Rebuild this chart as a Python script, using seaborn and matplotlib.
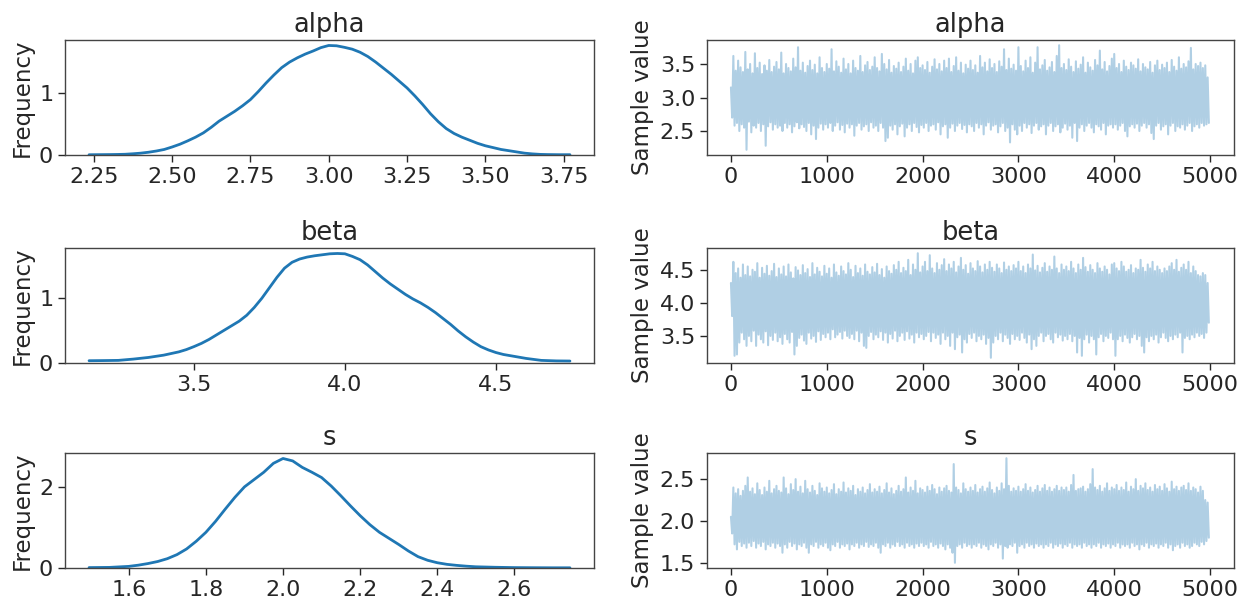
import numpy as np
import pandas as pd
import matplotlib
matplotlib.use("Agg")
import matplotlib.pyplot as plt
import seaborn as sns

# ---------------- data ----------------
params = ["alpha", "beta", "s"]

# posterior density
alpha_kde_x = [2.235, 2.25, 2.275, 2.30, 2.325, 2.35, 2.375, 2.40, 2.425, 2.45, 2.475, 2.50, 2.525, 2.55,
               2.575, 2.60, 2.625, 2.65, 2.675, 2.70, 2.725, 2.75, 2.775, 2.80, 2.825, 2.85, 2.875,
               2.90, 2.925, 2.95, 2.975, 3.00, 3.025, 3.05, 3.075, 3.10, 3.125, 3.15, 3.175, 3.20,
               3.225, 3.25, 3.275, 3.30, 3.325, 3.35, 3.375, 3.40, 3.425, 3.45, 3.475, 3.50, 3.525,
               3.55, 3.575, 3.60, 3.625, 3.65, 3.675, 3.70, 3.735, 3.77]
alpha_kde_y = [0.004, 0.005, 0.006, 0.007, 0.009, 0.012, 0.02, 0.03, 0.045, 0.065, 0.09, 0.13, 0.175, 0.23,
               0.29, 0.36, 0.45, 0.55, 0.63, 0.71, 0.80, 0.90, 1.03, 1.17, 1.30, 1.42, 1.51,
               1.58, 1.64, 1.69, 1.745, 1.78, 1.775, 1.75, 1.72, 1.67, 1.60, 1.51, 1.41, 1.31,
               1.20, 1.09, 0.96, 0.82, 0.67, 0.54, 0.43, 0.35, 0.29, 0.24, 0.19, 0.15, 0.12,
               0.09, 0.07, 0.05, 0.03, 0.018, 0.01, 0.007, 0.005, 0.005]

beta_kde_x = [3.153, 3.20, 3.25, 3.30, 3.35, 3.40, 3.45, 3.475, 3.50, 3.525, 3.55, 3.575, 3.60, 3.625,
              3.65, 3.675, 3.70, 3.725, 3.75, 3.775, 3.80, 3.825, 3.85, 3.875, 3.90, 3.925, 3.95,
              3.975, 4.00, 4.025, 4.05, 4.075, 4.10, 4.125, 4.15, 4.175, 4.20, 4.225, 4.25, 4.275,
              4.30, 4.325, 4.35, 4.375, 4.40, 4.425, 4.45, 4.475, 4.50, 4.525, 4.55, 4.60, 4.65,
              4.70, 4.745]
beta_kde_y = [0.035, 0.037, 0.04, 0.06, 0.085, 0.12, 0.17, 0.205, 0.25, 0.30, 0.36, 0.43, 0.50, 0.57,
              0.64, 0.73, 0.85, 0.99, 1.15, 1.31, 1.45, 1.54, 1.59, 1.62, 1.64, 1.655, 1.67,
              1.675, 1.67, 1.63, 1.58, 1.50, 1.40, 1.30, 1.21, 1.13, 1.05, 0.98, 0.92, 0.85,
              0.77, 0.68, 0.59, 0.49, 0.40, 0.32, 0.25, 0.20, 0.16, 0.13, 0.11, 0.07, 0.04,
              0.032, 0.03]

s_kde_x = [1.497, 1.55, 1.60, 1.625, 1.65, 1.675, 1.70, 1.725, 1.75, 1.775, 1.80, 1.825, 1.85, 1.875,
           1.90, 1.925, 1.95, 1.975, 2.00, 2.025, 2.05, 2.075, 2.10, 2.125, 2.15, 2.175, 2.20,
           2.225, 2.25, 2.275, 2.30, 2.325, 2.35, 2.375, 2.40, 2.425, 2.45, 2.475, 2.50, 2.55,
           2.60, 2.65, 2.70, 2.744]
s_kde_y = [0.01, 0.015, 0.04, 0.07, 0.11, 0.16, 0.23, 0.33, 0.47, 0.66, 0.88, 1.15, 1.45, 1.74,
           2.00, 2.18, 2.36, 2.58, 2.70, 2.64, 2.48, 2.36, 2.23, 2.02, 1.78, 1.53, 1.29,
           1.07, 0.88, 0.73, 0.58, 0.42, 0.28, 0.19, 0.13, 0.09, 0.065, 0.045, 0.03, 0.018,
           0.01, 0.007, 0.005, 0.005]

trace_step = 12.5  # iterations between the listed trace values

alpha_trace = [
    3.15, 2.70, 3.62, 2.58, 3.40, 2.62, 3.55, 2.50, 3.45, 2.60, 3.38, 2.55, 3.68, 2.22, 3.42, 2.64, 3.50, 2.48, 3.36, 2.58,
    3.66, 2.55, 3.44, 2.62, 3.52, 2.50, 3.35, 2.60, 3.48, 2.28, 3.40, 2.57, 3.56, 2.63, 3.38, 2.52, 3.46, 2.60, 3.53, 2.55,
    3.42, 2.58, 3.67, 2.50, 3.36, 2.62, 3.50, 2.55, 3.44, 2.60, 3.39, 2.48, 3.58, 2.57, 3.45, 2.63, 3.75, 2.54, 3.40, 2.60,
    3.52, 2.56, 3.37, 2.50, 3.47, 2.62, 3.55, 2.45, 3.41, 2.58, 3.49, 2.38, 3.36, 2.55, 3.60, 2.61, 3.44, 2.52, 3.38, 2.60,
    3.50, 2.55, 3.43, 2.62, 3.72, 2.50, 3.39, 2.58, 3.54, 2.63, 3.46, 2.52, 3.37, 2.59, 3.58, 2.48, 3.42, 2.61, 3.50, 2.55,
    3.36, 2.60, 3.55, 2.43, 3.44, 2.58, 3.40, 2.62, 3.62, 2.52, 3.38, 2.57, 3.48, 2.60, 3.53, 2.50, 3.41, 2.63, 3.46, 2.55,
    3.60, 2.58, 3.44, 2.50, 3.39, 2.62, 3.65, 2.55, 3.50, 2.35, 3.42, 2.40, 3.56, 2.58, 3.37, 2.52, 3.47, 2.60, 3.43, 2.45,
    3.52, 2.57, 3.38, 2.61, 3.46, 2.42, 3.58, 2.55, 3.40, 2.60, 3.50, 2.50, 3.36, 2.62, 3.55, 2.56, 3.60, 2.48, 3.44, 2.59,
    3.48, 2.55, 3.41, 2.62, 3.53, 2.50, 3.37, 2.58, 3.46, 2.60, 3.57, 2.52, 3.42, 2.63, 3.50, 2.45, 3.39, 2.57, 3.55, 2.60,
    3.44, 2.40, 3.58, 2.55, 3.38, 2.61, 3.47, 2.50, 3.60, 2.58, 3.40, 2.62, 3.52, 2.53, 3.36, 2.59, 3.49, 2.48, 3.43, 2.60,
    3.55, 2.57, 3.41, 2.50, 3.48, 2.62, 3.37, 2.55, 3.62, 2.60, 3.45, 2.45, 3.52, 2.58, 3.39, 2.63, 3.57, 2.52, 3.44, 2.58,
    3.50, 2.60, 3.38, 2.48, 3.54, 2.57, 3.46, 2.62, 3.72, 2.50, 3.41, 2.55, 3.58, 2.33, 3.43, 2.60, 3.49, 2.52, 3.40, 2.45,
    3.75, 2.58, 3.47, 2.50, 3.39, 2.62, 3.55, 2.55, 3.44, 2.60, 3.60, 2.47, 3.37, 2.58, 3.52, 2.62, 3.75, 2.52, 3.42, 2.57,
    3.48, 2.60, 3.56, 2.45, 3.40, 2.58, 3.45, 2.62, 3.53, 2.50, 3.38, 2.57, 3.62, 2.60, 3.78, 2.48, 3.44, 2.55, 3.50, 2.61,
    3.41, 2.52, 3.57, 2.58, 3.46, 2.40, 3.38, 2.62, 3.54, 2.35, 3.43, 2.55, 3.49, 2.60, 3.60, 2.50, 3.37, 2.58, 3.52, 2.62,
    3.45, 2.55, 3.40, 2.48, 3.56, 2.60, 3.48, 2.57, 3.70, 2.52, 3.42, 2.62, 3.53, 2.45, 3.39, 2.58, 3.47, 2.60, 3.58, 2.55,
    3.65, 2.60, 3.44, 2.52, 3.50, 2.58, 3.38, 2.62, 3.55, 2.50, 3.46, 2.42, 3.41, 2.57, 3.52, 2.60, 3.48, 2.55, 3.43, 2.61,
    3.57, 2.50, 3.39, 2.58, 3.50, 2.62, 3.45, 2.55, 3.42, 2.60, 3.53, 2.47, 3.37, 2.38, 3.48, 2.58, 3.55, 2.62, 3.41, 2.52,
    3.49, 2.57, 3.44, 2.60, 3.52, 2.45, 3.38, 2.58, 3.56, 2.62, 3.46, 2.50, 3.40, 2.57, 3.60, 2.55, 3.43, 2.60, 3.50, 2.52,
    3.45, 2.58, 3.54, 2.62, 3.74, 2.50, 3.42, 2.57, 3.50, 2.60, 3.47, 2.55, 3.52, 2.62, 3.44, 2.58, 3.48, 2.60, 3.30, 2.62,
]

beta_trace = [
    4.30, 3.80, 4.62, 3.20, 4.45, 3.22, 4.52, 3.40, 4.38, 3.55, 4.58, 3.45, 4.42, 3.35, 4.55, 3.50, 4.40, 3.42, 4.50, 3.58,
    4.47, 3.35, 4.60, 3.52, 4.38, 3.45, 4.53, 3.40, 4.44, 3.57, 4.56, 3.36, 4.41, 3.50, 4.48, 3.44, 4.59, 3.55, 4.39, 3.42,
    4.52, 3.48, 4.43, 3.38, 4.55, 3.53, 4.40, 3.45, 4.58, 3.40, 4.46, 3.56, 4.37, 3.22, 4.54, 3.35, 4.49, 3.47, 4.42, 3.52,
    4.57, 3.43, 4.45, 3.38, 4.51, 3.55, 4.39, 3.46, 4.60, 3.50, 4.43, 3.41, 4.53, 3.57, 4.47, 3.44, 4.40, 3.53, 4.56, 3.48,
    4.44, 3.55, 4.52, 3.45, 4.38, 3.60, 4.58, 3.48, 4.46, 3.52, 4.41, 3.56, 4.55, 3.46, 4.48, 3.58, 4.43, 3.50, 4.60, 3.47,
    4.50, 3.53, 4.39, 3.45, 4.56, 3.58, 4.45, 3.42, 4.52, 3.55, 4.41, 3.35, 4.58, 3.32, 4.47, 3.50, 4.43, 3.56, 4.54, 3.45,
    4.46, 3.52, 4.59, 3.48, 4.42, 3.57, 4.51, 3.44, 4.38, 3.55, 4.55, 3.40, 4.48, 3.53, 4.44, 3.46, 4.57, 3.58, 4.50, 3.42,
    4.62, 3.50, 4.45, 3.55, 4.53, 3.44, 4.48, 3.57, 4.65, 3.46, 4.42, 3.52, 4.58, 3.40, 4.50, 3.55, 4.75, 3.48, 4.46, 3.53,
    4.55, 3.45, 4.62, 3.50, 4.48, 3.56, 4.72, 3.42, 4.52, 3.55, 4.45, 3.47, 4.60, 3.52, 4.50, 3.38, 4.57, 3.55, 4.66, 3.45,
    4.48, 3.50, 4.58, 3.35, 4.52, 3.55, 4.62, 3.30, 4.46, 3.48, 4.55, 3.52, 4.68, 3.25, 4.50, 3.45, 4.57, 3.40, 4.44, 3.53,
    4.60, 3.47, 4.52, 3.55, 4.48, 3.42, 4.63, 3.50, 4.55, 3.45, 4.46, 3.52, 4.58, 3.38, 4.50, 3.47, 4.62, 3.17, 4.53, 3.40,
    4.47, 3.50, 4.58, 3.45, 4.52, 3.55, 4.45, 3.42, 4.61, 3.52, 4.50, 3.47, 4.55, 3.38, 4.48, 3.53, 4.57, 3.45, 4.52, 3.50,
    4.62, 3.44, 4.48, 3.55, 4.55, 3.47, 4.45, 3.40, 4.58, 3.52, 4.52, 3.30, 4.73, 3.45, 4.49, 3.35, 4.56, 3.50, 4.46, 3.55,
    4.53, 3.42, 4.60, 3.50, 4.47, 3.53, 4.55, 3.45, 4.50, 3.40, 4.70, 3.55, 4.52, 3.48, 4.45, 3.52, 4.58, 3.43, 4.50, 3.50,
    4.55, 3.45, 4.48, 3.53, 4.62, 3.42, 4.52, 3.50, 4.45, 3.25, 4.58, 3.47, 4.50, 3.20, 4.68, 3.45, 4.54, 3.52, 4.47, 3.40,
    4.57, 3.50, 4.50, 3.45, 4.45, 3.22, 4.60, 3.48, 4.52, 3.53, 4.47, 3.42, 4.55, 3.50, 4.50, 3.47, 4.43, 3.55, 4.58, 3.45,
    4.60, 3.20, 4.52, 3.45, 4.48, 3.50, 4.62, 3.42, 4.55, 3.52, 4.47, 3.47, 4.50, 3.40, 4.57, 3.48, 4.45, 3.53, 4.52, 3.45,
    4.50, 3.50, 4.65, 3.35, 4.53, 3.25, 4.47, 3.48, 4.58, 3.42, 4.52, 3.50, 4.62, 3.45, 4.48, 3.52, 4.55, 3.40, 4.50, 3.48,
    4.45, 3.55, 4.52, 3.47, 4.48, 3.42, 4.55, 3.50, 4.60, 3.45, 4.50, 3.52, 4.65, 3.48, 4.47, 3.55, 4.53, 3.25, 4.58, 3.47,
    4.50, 3.50, 4.62, 3.45, 4.45, 3.52, 4.55, 3.48, 4.48, 3.55, 4.42, 3.50, 4.40, 3.53, 4.45, 3.47, 4.42, 3.55, 4.30, 3.70,
]

s_trace = [
    2.05, 1.85, 2.40, 1.72, 2.33, 1.66, 2.38, 1.75, 2.30, 1.70, 2.36, 1.73, 2.42, 1.68, 2.52, 1.74, 2.35, 1.70, 2.39, 1.76,
    2.32, 1.68, 2.45, 1.73, 2.37, 1.70, 2.31, 1.75, 2.40, 1.66, 2.35, 1.72, 2.48, 1.70, 2.33, 1.74, 2.38, 1.68, 2.42, 1.73,
    2.36, 1.70, 2.34, 1.62, 2.52, 1.72, 2.39, 1.68, 2.32, 1.75, 2.44, 1.70, 2.37, 1.73, 2.50, 1.66, 2.35, 1.72, 2.41, 1.70,
    2.33, 1.74, 2.48, 1.68, 2.38, 1.62, 2.34, 1.72, 2.42, 1.70, 2.36, 1.75, 2.31, 1.68, 2.45, 1.72, 2.39, 1.70, 2.35, 1.74,
    2.40, 1.68, 2.33, 1.65, 2.37, 1.72, 2.44, 1.70, 2.32, 1.75, 2.38, 1.68, 2.35, 1.72, 2.46, 1.70, 2.34, 1.73, 2.39, 1.66,
    2.36, 1.72, 2.42, 1.70, 2.31, 1.74, 2.38, 1.68, 2.35, 1.72, 2.40, 1.70, 2.33, 1.75, 2.37, 1.69, 2.44, 1.72, 2.34, 1.70,
    2.38, 1.74, 2.35, 1.68, 2.41, 1.62, 2.33, 1.72, 2.37, 1.70, 2.45, 1.74, 2.34, 1.68, 2.39, 1.72, 2.32, 1.70, 2.36, 1.75,
    2.42, 1.70, 2.35, 1.72, 2.38, 1.68, 2.52, 1.74, 2.34, 1.70, 2.40, 1.72, 2.36, 1.68, 2.48, 1.73, 2.33, 1.70, 2.39, 1.74,
    2.37, 1.70, 2.34, 1.72, 2.41, 1.68, 2.36, 1.75, 2.43, 1.70, 2.38, 1.72, 2.32, 1.68, 2.40, 1.73, 2.35, 1.70, 2.39, 1.66,
    2.42, 1.72, 2.36, 1.68, 2.34, 1.62, 2.68, 1.50, 2.40, 1.70, 2.37, 1.72, 2.33, 1.68, 2.45, 1.74, 2.38, 1.70, 2.35, 1.72,
    2.40, 1.68, 2.36, 1.72, 2.43, 1.70, 2.34, 1.74, 2.38, 1.68, 2.41, 1.72, 2.35, 1.70, 2.39, 1.66, 2.46, 1.72, 2.37, 1.70,
    2.33, 1.74, 2.40, 1.68, 2.36, 1.72, 2.45, 1.55, 2.38, 1.70, 2.75, 1.68, 2.42, 1.72, 2.35, 1.70, 2.39, 1.74, 2.36, 1.62,
    2.41, 1.70, 2.35, 1.72, 2.38, 1.68, 2.44, 1.74, 2.36, 1.70, 2.40, 1.72, 2.34, 1.68, 2.37, 1.73, 2.42, 1.70, 2.35, 1.72,
    2.39, 1.68, 2.43, 1.72, 2.36, 1.70, 2.40, 1.74, 2.35, 1.68, 2.38, 1.72, 2.42, 1.70, 2.36, 1.73, 2.40, 1.68, 2.37, 1.72,
    2.40, 1.70, 2.35, 1.74, 2.43, 1.68, 2.55, 1.72, 2.36, 1.70, 2.38, 1.72, 2.39, 1.68, 2.41, 1.74, 2.35, 1.70, 2.38, 1.72,
    2.44, 1.68, 2.62, 1.72, 2.40, 1.70, 2.37, 1.74, 2.42, 1.68, 2.35, 1.72, 2.39, 1.70, 2.45, 1.73, 2.36, 1.68, 2.40, 1.72,
    2.38, 1.70, 2.43, 1.74, 2.36, 1.68, 2.40, 1.72, 2.37, 1.70, 2.46, 1.72, 2.35, 1.68, 2.41, 1.74, 2.38, 1.70, 2.50, 1.72,
    2.36, 1.66, 2.42, 1.72, 2.39, 1.70, 2.45, 1.74, 2.37, 1.68, 2.40, 1.72, 2.35, 1.70, 2.43, 1.73, 2.38, 1.68, 2.41, 1.72,
    2.36, 1.70, 2.44, 1.74, 2.39, 1.68, 2.35, 1.72, 2.47, 1.65, 2.38, 1.70, 2.41, 1.72, 2.36, 1.68, 2.40, 1.74, 2.42, 1.70,
    2.37, 1.72, 2.45, 1.68, 2.36, 1.70, 2.40, 1.74, 2.38, 1.72, 2.34, 1.70, 2.41, 1.75, 2.36, 1.72, 2.25, 1.76, 2.22, 1.80,
]

# ---------------- style ----------------
sns.set_theme(style="ticks")
plt.rcParams["font.family"] = ["DejaVu Sans"]
TXT = "#262626"
plt.rcParams.update({
    "text.color": TXT, "axes.labelcolor": TXT,
    "xtick.color": TXT, "ytick.color": TXT,
    "axes.edgecolor": "#444444", "axes.linewidth": 1.0,
    "xtick.major.size": 5, "ytick.major.size": 5,
    "xtick.major.width": 1.0, "ytick.major.width": 1.0,
    "xtick.labelsize": 16, "ytick.labelsize": 16,
    "axes.labelsize": 16.5, "axes.titlesize": 18.5,
})

W, H = 1247, 600
fig = plt.figure(figsize=(W / 100, H / 100), dpi=100)

cols = [(65, 594), (707, 1234)]
rows = [(40, 155), (248, 363), (453, 568)]


def add_ax(r, c):
    x0, x1 = cols[c]
    y0, y1 = rows[r]
    return fig.add_axes([x0 / W, 1 - y1 / H, (x1 - x0) / W, (y1 - y0) / H])


BLUE = "#1f77b4"
kdes = [(alpha_kde_x, alpha_kde_y), (beta_kde_x, beta_kde_y), (s_kde_x, s_kde_y)]
traces = [alpha_trace, beta_trace, s_trace]
kde_xticks = [[2.25, 2.50, 2.75, 3.00, 3.25, 3.50, 3.75], [3.5, 4.0, 4.5], [1.6, 1.8, 2.0, 2.2, 2.4, 2.6]]
kde_xfmt = ["{:.2f}", "{:.1f}", "{:.1f}"]
kde_yticks = [[0, 1], [0, 1], [0, 2]]
trace_yticks = [[2.5, 3.0, 3.5], [3.5, 4.0, 4.5], [1.5, 2.0, 2.5]]

for i, name in enumerate(params):
    # density
    ax = add_ax(i, 0)
    kx, ky = kdes[i]
    sns.lineplot(x=kx, y=ky, ax=ax, color=BLUE, lw=2.0, sort=False, estimator=None)
    ax.set_ylim(0, max(ky) * 1.05)
    xr = kx[-1] - kx[0]
    ax.set_xlim(kx[0] - 0.05 * xr, kx[-1] + 0.05 * xr)
    ax.set_xticks(kde_xticks[i])
    ax.set_xticklabels([kde_xfmt[i].format(t) for t in kde_xticks[i]])
    ax.set_yticks(kde_yticks[i])
    ax.set_ylabel("Frequency")
    ax.set_title(name)

    # trace
    ax2 = add_ax(i, 1)
    vals = traces[i]
    it = np.arange(len(vals)) * trace_step
    df = pd.DataFrame({"iteration": it, "value": vals})
    sns.lineplot(data=df, x="iteration", y="value", ax=ax2, color=BLUE, alpha=0.35,
                 lw=1.5, sort=False, estimator=None)
    ax2.set_xlim(-250, 5250)
    vr = max(vals) - min(vals)
    ax2.set_ylim(min(vals) - 0.05 * vr, max(vals) + 0.05 * vr)
    ax2.set_xticks([0, 1000, 2000, 3000, 4000, 5000])
    ax2.set_yticks(trace_yticks[i])
    ax2.set_ylabel("Sample value")
    ax2.set_xlabel("")
    ax2.set_title(name)

fig.savefig("out.png", dpi=100)
